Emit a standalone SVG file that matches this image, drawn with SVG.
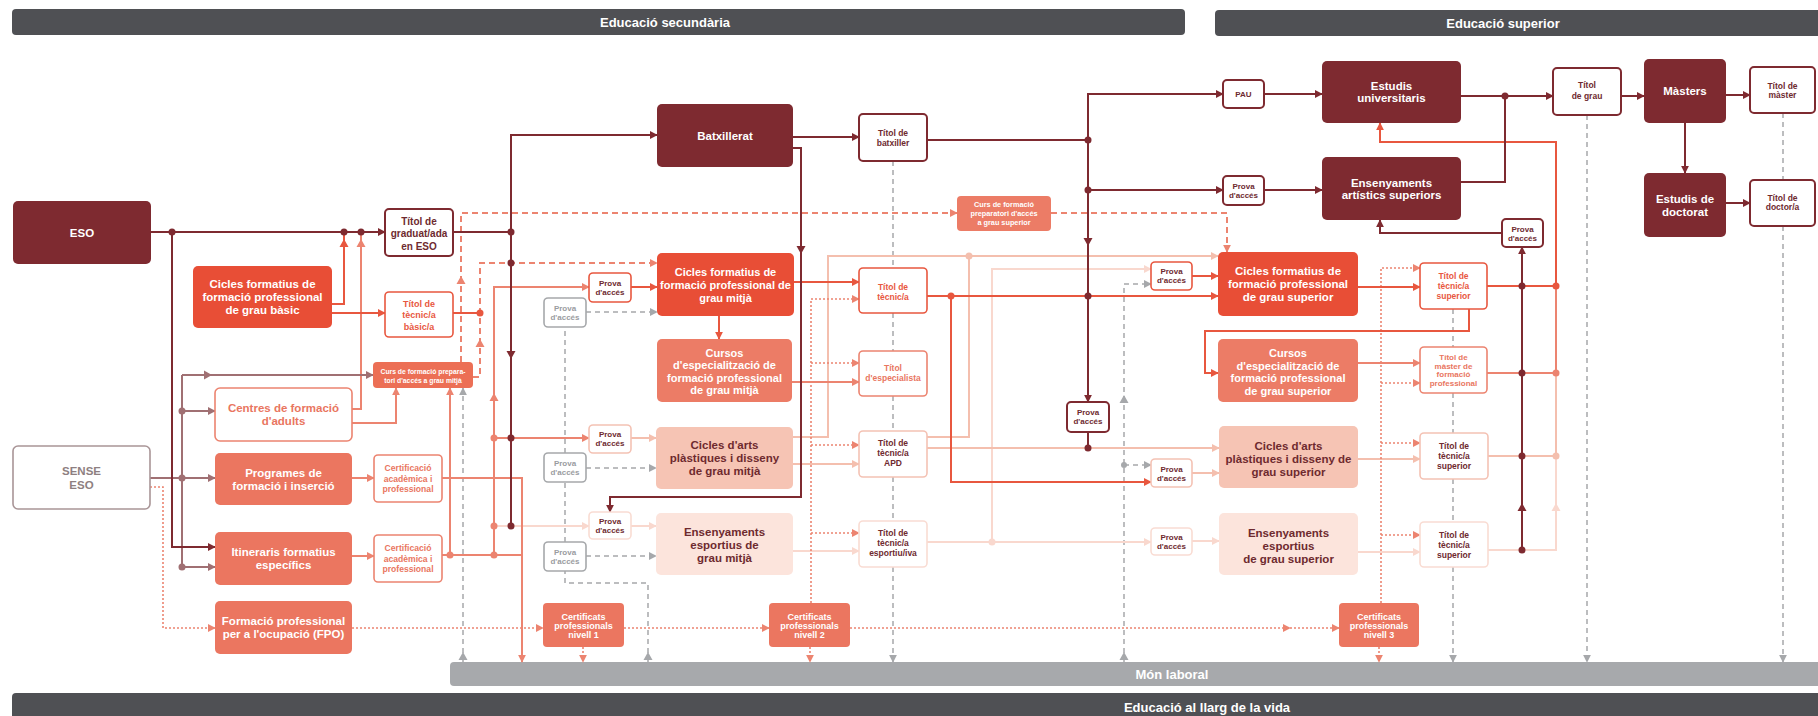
<svg xmlns="http://www.w3.org/2000/svg" width="1818" height="716" viewBox="0 0 1818 716">
<defs>
<style>
.t{font-family:"Liberation Sans",Arial,sans-serif;font-weight:bold;text-anchor:middle}
.f13{font-size:13px}.f115{font-size:11.5px}.f11{font-size:11px}.f10{font-size:10px}.f9{font-size:9px}.f85{font-size:8.5px}.f8{font-size:8px}.f7{font-size:7px}
.tw{fill:#fff}.td{fill:#6e2a2f}.to{fill:#e8573f}.ts{fill:#e9765f}.tg{fill:#9a9c9f}.tm{fill:#8e7f81}
.bd{fill:#7e2a30}.bor{fill:#e84e36}.bsa{fill:#eb7660}.bcu{fill:#ec7c66}.bpe{fill:#f6c4b4}.bvl{fill:#fce4dc}.bcp{fill:#ec6f55}
.od,.oo,.os,.op,.ov,.og,.om{fill:#fff;stroke-width:1.6}
.od{stroke:#7e2a30;stroke-width:2}.oo{stroke:#e8573f}.os{stroke:#ec8470}.op{stroke:#f4c2b4}.ov{stroke:#f9dcd3}.og{stroke:#a6a8ab}.om{stroke:#a99597}
.c{fill:none;stroke-width:2}
.cd{stroke:#7e2a30}.cm{stroke:#a07073}.co{stroke:#e8573f}.cs{stroke:#ec8470}.cp{stroke:#f4bfae}.cv{stroke:#f9d8ce}
.cg{stroke:#a6a8ab;stroke-width:1.5;stroke-dasharray:5 4}
.cds{stroke:#ec8470;stroke-dasharray:6 4}
.cdt{stroke:#ec8470;stroke-width:1.6;stroke-dasharray:2 2}
.dd{fill:#7e2a30}.dm{fill:#a07073}.do{fill:#e8573f}.ds{fill:#ec8470}.dp{fill:#f4bfae}.dv{fill:#f9d8ce}.dg{fill:#a6a8ab}
</style>
<marker id="ad" viewBox="0 0 10 10" refX="9" refY="5" markerWidth="8" markerHeight="8" markerUnits="userSpaceOnUse" orient="auto"><path d="M0,0L10,5L0,10z" fill="#7e2a30"/></marker>
<marker id="am" viewBox="0 0 10 10" refX="9" refY="5" markerWidth="8" markerHeight="8" markerUnits="userSpaceOnUse" orient="auto"><path d="M0,0L10,5L0,10z" fill="#a07073"/></marker>
<marker id="ao" viewBox="0 0 10 10" refX="9" refY="5" markerWidth="8" markerHeight="8" markerUnits="userSpaceOnUse" orient="auto"><path d="M0,0L10,5L0,10z" fill="#e8573f"/></marker>
<marker id="as" viewBox="0 0 10 10" refX="9" refY="5" markerWidth="8" markerHeight="8" markerUnits="userSpaceOnUse" orient="auto"><path d="M0,0L10,5L0,10z" fill="#ec8470"/></marker>
<marker id="ap" viewBox="0 0 10 10" refX="9" refY="5" markerWidth="8" markerHeight="8" markerUnits="userSpaceOnUse" orient="auto"><path d="M0,0L10,5L0,10z" fill="#f4bfae"/></marker>
<marker id="av" viewBox="0 0 10 10" refX="9" refY="5" markerWidth="8" markerHeight="8" markerUnits="userSpaceOnUse" orient="auto"><path d="M0,0L10,5L0,10z" fill="#f9d8ce"/></marker>
<marker id="ag" viewBox="0 0 10 10" refX="9" refY="5" markerWidth="8" markerHeight="8" markerUnits="userSpaceOnUse" orient="auto"><path d="M0,0L10,5L0,10z" fill="#a6a8ab"/></marker>
<path id="hu" d="M-4.5,4L4.5,4L0,-4z"/>
<path id="hd" d="M-4.5,-4L4.5,-4L0,4z"/>
<path id="hr" d="M-4,-4.5L-4,4.5L4,0z"/>
</defs>
<rect width="1818" height="716" fill="#fff"/>

<g id="hdr-secundaria"><rect x="12" y="9" width="1173" height="26" rx="4" fill="#4f5054"/><text class="t f13 tw" x="665" y="27">Educació secundària</text></g>
<g id="hdr-superior"><rect x="1215" y="10" width="610" height="26" rx="4" fill="#4f5054"/><text class="t f13 tw" x="1503" y="28">Educació superior</text></g>
<g id="mon-laboral"><rect x="450" y="662" width="1375" height="24" rx="4" fill="#a7a9ac"/><text class="t f13 tw" x="1172" y="679">Món laboral</text></g>
<g id="llarg-vida"><rect x="12" y="693" width="1813" height="30" rx="4" fill="#4f5054"/><text class="t f13 tw" x="1207" y="712">Educació al llarg de la vida</text></g>

<g id="connectors">
<path class="c cg" d="M463,662V388" marker-end="url(#ag)"/>
<path class="c cg" d="M648,662V583H565V571M565,542V482M565,453V327"/>
<path class="c cg" d="M586,312H657" marker-end="url(#ag)"/>
<path class="c cg" d="M586,468H656" marker-end="url(#ag)"/>
<path class="c cg" d="M586,556H656" marker-end="url(#ag)"/>
<path class="c cg" d="M893,161V268M893,313V351M893,396V431M893,477V521"/>
<path class="c cg" d="M893,567V662" marker-end="url(#ag)"/>
<path class="c cg" d="M1124,662V284H1151" marker-end="url(#ag)"/>
<path class="c cg" d="M1124,465H1151" marker-end="url(#ag)"/>
<path class="c cg" d="M1453,309V347M1453,393V433M1453,479V522"/>
<path class="c cg" d="M1453,567V662" marker-end="url(#ag)"/>
<path class="c cg" d="M1587,115V662" marker-end="url(#ag)"/>
<path class="c cg" d="M1783,113V180"/>
<path class="c cg" d="M1783,226V662" marker-end="url(#ag)"/>
<path class="c cv" d="M494,526H589" marker-end="url(#av)"/>
<path class="c cv" d="M631,526H656" marker-end="url(#av)"/>
<path class="c cv" d="M793,551H859" marker-end="url(#av)"/>
<path class="c cv" d="M927,542H1151" marker-end="url(#av)"/>
<path class="c cv" d="M992,542V269H1151" marker-end="url(#av)"/>
<path class="c cv" d="M1192,541H1219" marker-end="url(#av)"/>
<path class="c cv" d="M1358,552H1420" marker-end="url(#av)"/>
<path class="c cv" d="M1488,550H1556V456"/>
<path class="c cp" d="M631,438H656" marker-end="url(#ap)"/>
<path class="c cp" d="M793,464H859" marker-end="url(#ap)"/>
<path class="c cp" d="M793,437H828V256H1218" marker-end="url(#ap)"/>
<path class="c cp" d="M927,437H969V256"/>
<path class="c cp" d="M927,448H1219" marker-end="url(#ap)"/>
<path class="c cp" d="M1192,473H1219" marker-end="url(#ap)"/>
<path class="c cp" d="M1358,459H1420" marker-end="url(#ap)"/>
<path class="c cp" d="M1488,456H1556V373"/>
<path class="c cdt" d="M150,487H163V628H215" marker-end="url(#as)"/>
<path class="c cdt" d="M352,628H543" marker-end="url(#as)"/>
<path class="c cdt" d="M624,628H769" marker-end="url(#as)"/>
<path class="c cdt" d="M850,628H1290" marker-end="url(#as)"/>
<path class="c cdt" d="M1290,628H1339" marker-end="url(#as)"/>
<path class="c cdt" d="M583,647V662" marker-end="url(#as)"/>
<path class="c cdt" d="M810,647V662" marker-end="url(#as)"/>
<path class="c cdt" d="M1379,647V662" marker-end="url(#as)"/>
<path class="c cdt" d="M811,603V299H859" marker-end="url(#as)"/>
<path class="c cdt" d="M811,363H859" marker-end="url(#as)"/>
<path class="c cdt" d="M811,445H859" marker-end="url(#as)"/>
<path class="c cdt" d="M811,533H859" marker-end="url(#as)"/>
<path class="c cdt" d="M1381,603V268H1420" marker-end="url(#as)"/>
<path class="c cdt" d="M1381,383H1420" marker-end="url(#as)"/>
<path class="c cdt" d="M1381,443H1420" marker-end="url(#as)"/>
<path class="c cdt" d="M1381,535H1420" marker-end="url(#as)"/>
<path class="c cds" d="M461,362V213H957" marker-end="url(#as)"/>
<path class="c cds" d="M473,377H480V263H657" marker-end="url(#as)"/>
<path class="c cds" d="M1051,213H1227V252" marker-end="url(#as)"/>
<path class="c cs" d="M352,409H361V232"/>
<path class="c cs" d="M352,423H396V388" marker-end="url(#as)"/>
<path class="c cs" d="M352,478H374" marker-end="url(#as)"/>
<path class="c cs" d="M352,556H374" marker-end="url(#as)"/>
<path class="c cs" d="M442,478H522V662" marker-end="url(#as)"/>
<path class="c cs" d="M442,555H522"/>
<path class="c cs" d="M450,555V388" marker-end="url(#as)"/>
<path class="c cs" d="M494,555V287H589" marker-end="url(#as)"/>
<path class="c cs" d="M494,438H589" marker-end="url(#as)"/>
<path class="c cs" d="M792,382H859" marker-end="url(#as)"/>
<path class="c cs" d="M1358,363H1420" marker-end="url(#as)"/>
<path class="c cs" d="M1487,373H1556V286"/>
<path class="c co" d="M332,304H344V232"/>
<path class="c co" d="M332,313H385" marker-end="url(#ao)"/>
<path class="c co" d="M453,313H480"/>
<path class="c co" d="M631,287H657" marker-end="url(#ao)"/>
<path class="c co" d="M794,282H859" marker-end="url(#ao)"/>
<path class="c co" d="M719,316V339" marker-end="url(#ao)"/>
<path class="c co" d="M927,296H1218" marker-end="url(#ao)"/>
<path class="c co" d="M951,296V482H1151" marker-end="url(#ao)"/>
<path class="c co" d="M1192,276H1218" marker-end="url(#ao)"/>
<path class="c co" d="M1358,287H1420" marker-end="url(#ao)"/>
<path class="c co" d="M1487,286H1556V142H1380V123" marker-end="url(#ao)"/>
<path class="c co" d="M1469,309V331H1205V373H1218" marker-end="url(#ao)"/>
<path class="c cm" d="M150,478H215" marker-end="url(#am)"/>
<path class="c cm" d="M182,375V567"/>
<path class="c cm" d="M182,375H373" marker-end="url(#am)"/>
<path class="c cm" d="M182,411H215" marker-end="url(#am)"/>
<path class="c cm" d="M182,567H215" marker-end="url(#am)"/>
<path class="c cd" d="M151,232H385" marker-end="url(#ad)"/>
<path class="c cd" d="M172,232V547H215" marker-end="url(#ad)"/>
<path class="c cd" d="M453,232H511"/>
<path class="c cd" d="M511,526V135H657" marker-end="url(#ad)"/>
<path class="c cd" d="M793,137H859" marker-end="url(#ad)"/>
<path class="c cd" d="M793,148H801V497H610V512" marker-end="url(#ad)"/>
<path class="c cd" d="M927,140H1088"/>
<path class="c cd" d="M1088,140V94H1223" marker-end="url(#ad)"/>
<path class="c cd" d="M1088,140V402" marker-end="url(#ad)"/>
<path class="c cd" d="M1088,432V448"/>
<path class="c cd" d="M1088,190H1223" marker-end="url(#ad)"/>
<path class="c cd" d="M1264,94H1322" marker-end="url(#ad)"/>
<path class="c cd" d="M1264,190H1322" marker-end="url(#ad)"/>
<path class="c cd" d="M1461,96H1553" marker-end="url(#ad)"/>
<path class="c cd" d="M1461,182H1505V96"/>
<path class="c cd" d="M1621,96H1644" marker-end="url(#ad)"/>
<path class="c cd" d="M1726,95H1750" marker-end="url(#ad)"/>
<path class="c cd" d="M1685,123V173" marker-end="url(#ad)"/>
<path class="c cd" d="M1726,203H1750" marker-end="url(#ad)"/>
<path class="c cd" d="M1522,550V247" marker-end="url(#ad)"/>
<path class="c cd" d="M1502,233H1380V220" marker-end="url(#ad)"/>
<use href="#hu" x="344" y="243" fill="#e8573f"/>
<use href="#hu" x="361" y="243" fill="#ec8470"/>
<use href="#hu" x="494" y="397" fill="#ec8470"/>
<use href="#hu" x="461" y="280" fill="#ec8470"/>
<use href="#hu" x="480" y="343" fill="#ec8470"/>
<use href="#hr" x="208" y="375" fill="#a07073"/>
<use href="#hd" x="511" y="355" fill="#7e2a30"/>
<use href="#hd" x="801" y="250" fill="#7e2a30"/>
<use href="#hd" x="1088" y="242" fill="#7e2a30"/>
<use href="#hu" x="1522" y="507" fill="#7e2a30"/>
<use href="#hu" x="1556" y="507" fill="#f9d8ce"/>
<use href="#hu" x="463" y="656" fill="#a6a8ab"/>
<use href="#hu" x="648" y="656" fill="#a6a8ab"/>
<use href="#hu" x="1124" y="656" fill="#a6a8ab"/>
<use href="#hu" x="1124" y="399" fill="#a6a8ab"/>
<circle class="dd" cx="172" cy="232" r="3.5"/><circle class="dd" cx="344" cy="232" r="3.5"/><circle class="dd" cx="361" cy="232" r="3.5"/>
<circle class="dd" cx="511" cy="232" r="3.5"/><circle class="dd" cx="511" cy="263" r="3.5"/><circle class="dd" cx="511" cy="438" r="3.5"/><circle class="dd" cx="511" cy="526" r="3.5"/>
<circle class="dd" cx="1088" cy="140" r="3.5"/><circle class="dd" cx="1088" cy="190" r="3.5"/><circle class="dd" cx="1088" cy="296" r="3.5"/><circle class="dd" cx="1088" cy="448" r="3.5"/>
<circle class="dd" cx="1505" cy="96" r="3.5"/><circle class="dd" cx="1522" cy="286" r="3.5"/><circle class="dd" cx="1522" cy="373" r="3.5"/><circle class="dd" cx="1522" cy="456" r="3.5"/><circle class="dd" cx="1522" cy="550" r="3.5"/>
<circle class="dm" cx="182" cy="411" r="3.5"/><circle class="dm" cx="182" cy="478" r="3.5"/><circle class="dm" cx="182" cy="567" r="3.5"/>
<circle class="do" cx="480" cy="313" r="3.5"/><circle class="do" cx="951" cy="296" r="3.5"/><circle class="do" cx="1556" cy="286" r="3.5"/>
<circle class="ds" cx="450" cy="555" r="3.5"/><circle class="ds" cx="494" cy="555" r="3.5"/><circle class="ds" cx="494" cy="438" r="3.5"/><circle class="ds" cx="494" cy="526" r="3.5"/><circle class="ds" cx="1556" cy="373" r="3.5"/>
<circle class="dp" cx="969" cy="256" r="3.5"/><circle class="dp" cx="1556" cy="456" r="3.5"/>
<circle class="dv" cx="992" cy="542" r="3.5"/>
<circle class="dg" cx="1124" cy="465" r="3"/>
</g>

<g id="n-eso"><rect class="bd" x="13" y="201" width="138" height="63" rx="5"/><text class="t f115 tw" x="82" y="236.5">ESO</text></g>
<g id="n-sense-eso"><rect class="om" x="13" y="446" width="137" height="63" rx="5"/><text class="t f115 tm"><tspan x="81.5" y="475">SENSE</tspan><tspan x="81.5" y="489">ESO</tspan></text></g>
<g id="n-cfgb"><rect class="bor" x="193" y="266" width="139" height="62" rx="5"/><text class="t f115 tw"><tspan x="262.5" y="288">Cicles formatius de</tspan><tspan x="262.5" y="301">formació professional</tspan><tspan x="262.5" y="314">de grau bàsic</tspan></text></g>
<g id="n-titol-eso"><rect class="od" x="385" y="209" width="68" height="47" rx="4"/><text class="t f10 td"><tspan x="419" y="224.5">Títol de</tspan><tspan x="419" y="237">graduat/ada</tspan><tspan x="419" y="249.5">en ESO</tspan></text></g>
<g id="n-titol-basic"><rect class="oo" x="385" y="292" width="68" height="45" rx="4"/><text class="t f9 to"><tspan x="419" y="306.5">Títol de</tspan><tspan x="419" y="318">tècnic/a</tspan><tspan x="419" y="329.5">bàsic/a</tspan></text></g>
<g id="n-curs-prep-mitja"><rect class="bcp" x="373" y="362" width="100" height="26" rx="4"/><text class="t tw" style="font-size:6.8px"><tspan x="423" y="373.5">Curs de formació prepara-</tspan><tspan x="423" y="382.5">tori d'accés a grau mitjà</tspan></text></g>
<g id="n-centres-adults"><rect class="os" x="215" y="388" width="137" height="53" rx="5"/><text class="t f115 ts"><tspan x="283.5" y="412">Centres de formació</tspan><tspan x="283.5" y="425">d'adults</tspan></text></g>
<g id="n-programes"><rect class="bsa" x="215" y="453" width="137" height="52" rx="5"/><text class="t f115 tw"><tspan x="283.5" y="476.5">Programes de</tspan><tspan x="283.5" y="489.5">formació i inserció</tspan></text></g>
<g id="n-cert-acad-1"><rect class="os" x="374" y="455" width="68" height="47" rx="4"/><text class="t ts" style="font-size:8.6px"><tspan x="408" y="471">Certificació</tspan><tspan x="408" y="481.5">acadèmica i</tspan><tspan x="408" y="492">professional</tspan></text></g>
<g id="n-itineraris"><rect class="bsa" x="215" y="532" width="137" height="53" rx="5"/><text class="t f115 tw"><tspan x="283.5" y="556">Itineraris formatius</tspan><tspan x="283.5" y="569">específics</tspan></text></g>
<g id="n-cert-acad-2"><rect class="os" x="374" y="535" width="68" height="47" rx="4"/><text class="t ts" style="font-size:8.6px"><tspan x="408" y="551">Certificació</tspan><tspan x="408" y="561.5">acadèmica i</tspan><tspan x="408" y="572">professional</tspan></text></g>
<g id="n-fpo"><rect class="bsa" x="215" y="601" width="137" height="53" rx="5"/><text class="t f115 tw"><tspan x="283.5" y="625">Formació professional</tspan><tspan x="283.5" y="638">per a l'ocupació (FPO)</tspan></text></g>

<g id="n-batxillerat"><rect class="bd" x="657" y="104" width="136" height="63" rx="5"/><text class="t f115 tw" x="725" y="139.5">Batxillerat</text></g>
<g id="n-titol-batxiller"><rect class="od" x="859" y="114" width="68" height="47" rx="4"/><text class="t f85 td"><tspan x="893" y="136">Títol de</tspan><tspan x="893" y="146">batxiller</tspan></text></g>
<g id="n-cfgm"><rect class="bor" x="657" y="253" width="137" height="63" rx="5"/><text class="t f11 tw"><tspan x="725.5" y="276">Cicles formatius de</tspan><tspan x="725.5" y="289">formació professional de</tspan><tspan x="725.5" y="302">grau mitjà</tspan></text></g>
<g id="n-prova-cfgm"><rect class="oo" x="589" y="273" width="42" height="29" rx="4"/><text class="t f8 td"><tspan x="610" y="286">Prova</tspan><tspan x="610" y="295">d'accés</tspan></text></g>
<g id="n-prova-gris-1"><rect class="og" x="544" y="298" width="42" height="29" rx="4"/><text class="t f8 tg"><tspan x="565" y="311">Prova</tspan><tspan x="565" y="320">d'accés</tspan></text></g>
<g id="n-cursos-mitja"><rect class="bcu" x="657" y="339" width="135" height="63" rx="5"/><text class="t f11 tw"><tspan x="724.5" y="357">Cursos</tspan><tspan x="724.5" y="369.3">d'especialització de</tspan><tspan x="724.5" y="381.6">formació professional</tspan><tspan x="724.5" y="394">de grau mitjà</tspan></text></g>
<g id="n-titol-tecnic"><rect class="oo" x="859" y="268" width="68" height="45" rx="4"/><text class="t f85 to"><tspan x="893" y="290">Títol de</tspan><tspan x="893" y="299.5">tècnic/a</tspan></text></g>
<g id="n-titol-especialista"><rect class="os" x="859" y="351" width="68" height="45" rx="4"/><text class="t f85 ts"><tspan x="893" y="371">Títol</tspan><tspan x="893" y="381">d'especialista</tspan></text></g>
<g id="n-prova-arts-mitja"><rect class="op" x="589" y="425" width="42" height="28" rx="4"/><text class="t f8 td"><tspan x="610" y="436.5">Prova</tspan><tspan x="610" y="445.5">d'accés</tspan></text></g>
<g id="n-prova-gris-2"><rect class="og" x="544" y="453" width="42" height="29" rx="4"/><text class="t f8 tg"><tspan x="565" y="466">Prova</tspan><tspan x="565" y="475">d'accés</tspan></text></g>
<g id="n-arts-mitja"><rect class="bpe" x="656" y="427" width="137" height="62" rx="5"/><text class="t f115 td"><tspan x="724.5" y="449">Cicles d'arts</tspan><tspan x="724.5" y="462">plàstiques i disseny</tspan><tspan x="724.5" y="475">de grau mitjà</tspan></text></g>
<g id="n-prova-esp-mitja"><rect class="ov" x="589" y="512" width="42" height="27" rx="4"/><text class="t f8 td"><tspan x="610" y="523.5">Prova</tspan><tspan x="610" y="532.5">d'accés</tspan></text></g>
<g id="n-prova-gris-3"><rect class="og" x="544" y="542" width="42" height="29" rx="4"/><text class="t f8 tg"><tspan x="565" y="555">Prova</tspan><tspan x="565" y="564">d'accés</tspan></text></g>
<g id="n-esportius-mitja"><rect class="bvl" x="656" y="513" width="137" height="62" rx="5"/><text class="t f115 td"><tspan x="724.5" y="536">Ensenyaments</tspan><tspan x="724.5" y="549">esportius de</tspan><tspan x="724.5" y="562">grau mitjà</tspan></text></g>
<g id="n-titol-apd"><rect class="op" x="859" y="431" width="68" height="46" rx="4"/><text class="t f85 td"><tspan x="893" y="446">Títol de</tspan><tspan x="893" y="456">tècnic/a</tspan><tspan x="893" y="466">APD</tspan></text></g>
<g id="n-titol-esportiu"><rect class="ov" x="859" y="521" width="68" height="46" rx="4"/><text class="t f85 td"><tspan x="893" y="536">Títol de</tspan><tspan x="893" y="546">tècnic/a</tspan><tspan x="893" y="556">esportiu/iva</tspan></text></g>
<g id="n-cert-n1"><rect class="bsa" x="543" y="603" width="81" height="44" rx="4"/><text class="t f9 tw"><tspan x="583.5" y="620">Certificats</tspan><tspan x="583.5" y="629">professionals</tspan><tspan x="583.5" y="638">nivell 1</tspan></text></g>
<g id="n-cert-n2"><rect class="bsa" x="769" y="603" width="81" height="44" rx="4"/><text class="t f9 tw"><tspan x="809.5" y="620">Certificats</tspan><tspan x="809.5" y="629">professionals</tspan><tspan x="809.5" y="638">nivell 2</tspan></text></g>
<g id="n-cert-n3"><rect class="bsa" x="1339" y="603" width="80" height="44" rx="4"/><text class="t f9 tw"><tspan x="1379" y="620">Certificats</tspan><tspan x="1379" y="629">professionals</tspan><tspan x="1379" y="638">nivell 3</tspan></text></g>

<g id="n-curs-prep-sup"><rect class="bcu" x="957" y="196" width="94" height="35" rx="4"/><text class="t tw" style="font-size:7.3px"><tspan x="1004" y="206.5">Curs de formació</tspan><tspan x="1004" y="215.5">preparatori d'accés</tspan><tspan x="1004" y="224.5">a grau superior</tspan></text></g>
<g id="n-pau"><rect class="od" x="1223" y="80" width="41" height="28" rx="4"/><text class="t f8 td" x="1243.5" y="97">PAU</text></g>
<g id="n-prova-art-sup"><rect class="od" x="1223" y="176" width="41" height="29" rx="4"/><text class="t f8 td"><tspan x="1243.5" y="189">Prova</tspan><tspan x="1243.5" y="198">d'accés</tspan></text></g>
<g id="n-universitaris"><rect class="bd" x="1322" y="61" width="139" height="62" rx="5"/><text class="t f115 tw"><tspan x="1391.5" y="90">Estudis</tspan><tspan x="1391.5" y="102">universitaris</tspan></text></g>
<g id="n-artistics-sup"><rect class="bd" x="1322" y="157" width="139" height="63" rx="5"/><text class="t f115 tw"><tspan x="1391.5" y="187">Ensenyaments</tspan><tspan x="1391.5" y="199">artístics superiors</tspan></text></g>
<g id="n-cfgs"><rect class="bor" x="1218" y="252" width="140" height="64" rx="5"/><text class="t f115 tw"><tspan x="1288" y="275">Cicles formatius de</tspan><tspan x="1288" y="288">formació professional</tspan><tspan x="1288" y="301">de grau superior</tspan></text></g>
<g id="n-prova-cfgs"><rect class="oo" x="1151" y="262" width="41" height="28" rx="4"/><text class="t f8 td"><tspan x="1171.5" y="274">Prova</tspan><tspan x="1171.5" y="283">d'accés</tspan></text></g>
<g id="n-cursos-sup"><rect class="bcu" x="1218" y="339" width="140" height="63" rx="5"/><text class="t f11 tw"><tspan x="1288" y="357">Cursos</tspan><tspan x="1288" y="369.5">d'especialització de</tspan><tspan x="1288" y="382">formació professional</tspan><tspan x="1288" y="394.5">de grau superior</tspan></text></g>
<g id="n-prova-batx"><rect class="od" x="1067" y="402" width="42" height="30" rx="4"/><text class="t f8 td"><tspan x="1088" y="415">Prova</tspan><tspan x="1088" y="424">d'accés</tspan></text></g>
<g id="n-arts-sup"><rect class="bpe" x="1219" y="426" width="139" height="62" rx="5"/><text class="t f115 td"><tspan x="1288.5" y="450">Cicles d'arts</tspan><tspan x="1288.5" y="463">plàstiques i disseny de</tspan><tspan x="1288.5" y="476">grau superior</tspan></text></g>
<g id="n-prova-arts-sup"><rect class="op" x="1151" y="459" width="41" height="28" rx="4"/><text class="t f8 td"><tspan x="1171.5" y="471.5">Prova</tspan><tspan x="1171.5" y="480.5">d'accés</tspan></text></g>
<g id="n-esportius-sup"><rect class="bvl" x="1219" y="513" width="139" height="62" rx="5"/><text class="t f115 td"><tspan x="1288.5" y="537">Ensenyaments</tspan><tspan x="1288.5" y="550">esportius</tspan><tspan x="1288.5" y="563">de grau superior</tspan></text></g>
<g id="n-prova-esp-sup"><rect class="ov" x="1151" y="528" width="41" height="27" rx="4"/><text class="t f8 td"><tspan x="1171.5" y="540">Prova</tspan><tspan x="1171.5" y="549">d'accés</tspan></text></g>
<g id="n-titol-tec-sup"><rect class="oo" x="1420" y="263" width="67" height="46" rx="4"/><text class="t f85 to"><tspan x="1453.5" y="278.5">Títol de</tspan><tspan x="1453.5" y="288.5">tècnic/a</tspan><tspan x="1453.5" y="298.5">superior</tspan></text></g>
<g id="n-titol-master-fp"><rect class="os" x="1420" y="347" width="67" height="46" rx="4"/><text class="t f8 ts"><tspan x="1453.5" y="360">Títol de</tspan><tspan x="1453.5" y="368.5">màster de</tspan><tspan x="1453.5" y="377">formació</tspan><tspan x="1453.5" y="385.5">professional</tspan></text></g>
<g id="n-titol-tec-sup-arts"><rect class="op" x="1420" y="433" width="68" height="46" rx="4"/><text class="t f85 td"><tspan x="1454" y="449">Títol de</tspan><tspan x="1454" y="459">tècnic/a</tspan><tspan x="1454" y="469">superior</tspan></text></g>
<g id="n-titol-tec-sup-esp"><rect class="ov" x="1420" y="522" width="68" height="45" rx="4"/><text class="t f85 td"><tspan x="1454" y="537.5">Títol de</tspan><tspan x="1454" y="547.5">tècnic/a</tspan><tspan x="1454" y="557.5">superior</tspan></text></g>
<g id="n-prova-sup"><rect class="od" x="1502" y="219" width="41" height="28" rx="4"/><text class="t f8 td"><tspan x="1522.5" y="231.5">Prova</tspan><tspan x="1522.5" y="240.5">d'accés</tspan></text></g>
<g id="n-titol-grau"><rect class="od" x="1553" y="68" width="68" height="47" rx="4"/><text class="t f85 td"><tspan x="1587" y="88">Títol</tspan><tspan x="1587" y="99">de grau</tspan></text></g>
<g id="n-masters"><rect class="bd" x="1644" y="59" width="82" height="64" rx="5"/><text class="t f115 tw" x="1685" y="95">Màsters</text></g>
<g id="n-titol-master"><rect class="od" x="1750" y="67" width="65" height="46" rx="4"/><text class="t f85 td"><tspan x="1782.5" y="89">Títol de</tspan><tspan x="1782.5" y="98">màster</tspan></text></g>
<g id="n-doctorat"><rect class="bd" x="1644" y="173" width="82" height="64" rx="5"/><text class="t f115 tw"><tspan x="1685" y="203">Estudis de</tspan><tspan x="1685" y="216">doctorat</tspan></text></g>
<g id="n-titol-doctor"><rect class="od" x="1750" y="180" width="65" height="46" rx="4"/><text class="t f85 td"><tspan x="1782.5" y="201">Títol de</tspan><tspan x="1782.5" y="210">doctor/a</tspan></text></g>
</svg>
